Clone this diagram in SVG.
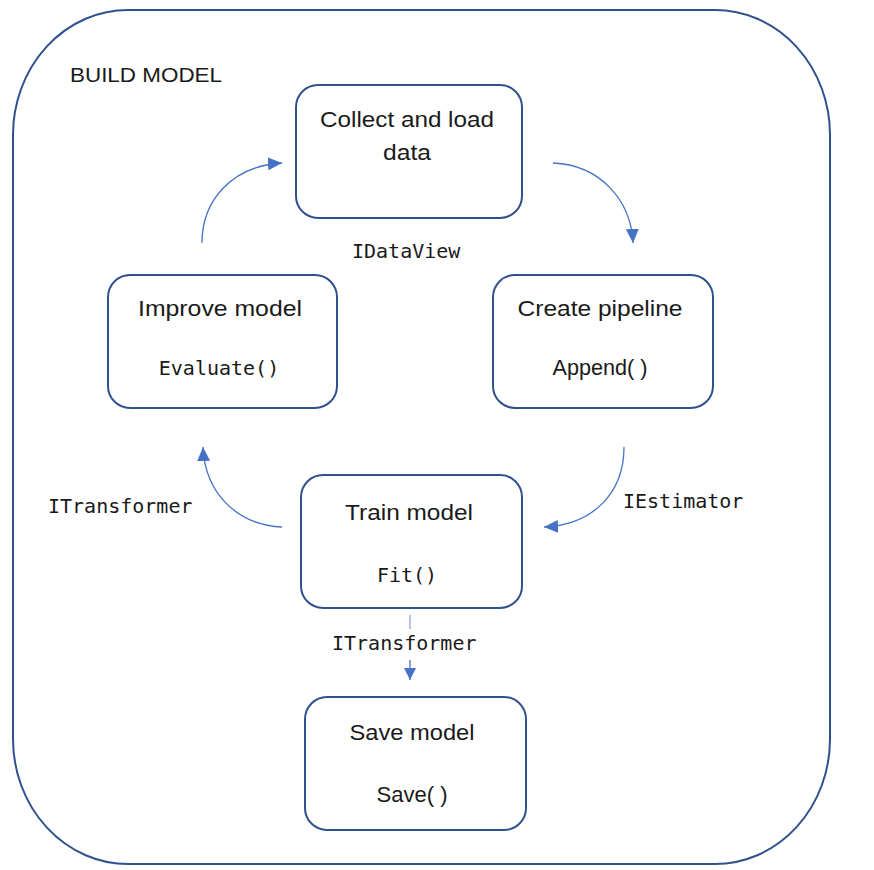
<svg xmlns="http://www.w3.org/2000/svg" width="874" height="870" viewBox="0 0 874 870">
  <style>
    .frame { fill: #ffffff; stroke: #2F528F; stroke-width: 2; }
    .box { fill: #ffffff; stroke: #2F528F; stroke-width: 2; }
    .sans { font-family: "Liberation Sans", Arial, sans-serif; font-size: 22px; fill: #1a1a1a; text-anchor: middle; }
    .mono { font-family: "DejaVu Sans Mono", "Liberation Mono", monospace; font-size: 20px; fill: #1a1a1a; }
    .conn { fill: none; stroke: #4472C4; stroke-width: 1.3; }
    .faint { fill: none; stroke: #9DB5E0; stroke-width: 1.5; }
  </style>
  <defs>
    <marker id="arrow" markerUnits="userSpaceOnUse" markerWidth="16" markerHeight="14" refX="14" refY="6.5" orient="auto">
      <path d="M0,0 L14,6.5 L0,13 z" fill="#4472C4"/>
    </marker>
    <marker id="arrowSmall" markerUnits="userSpaceOnUse" markerWidth="14" markerHeight="12" refX="12" refY="6" orient="auto">
      <path d="M0,0 L12,6 L0,12 z" fill="#4472C4"/>
    </marker>
  </defs>

  <rect width="874" height="870" fill="#ffffff"/>

  <g id="frame">
    <rect class="frame" x="13" y="10" width="817" height="854" rx="115" ry="125"/>
    <text x="70" y="82" font-family="Liberation Sans, Arial, sans-serif" font-size="21" fill="#1a1a1a" textLength="152" lengthAdjust="spacingAndGlyphs">BUILD MODEL</text>
  </g>

  <g id="connectors">
    <path class="conn" d="M202,243 C202,200 232,166 282,163" marker-end="url(#arrow)"/>
    <path class="conn" d="M553,163 C600,165 631,200 633,243" marker-end="url(#arrow)"/>
    <path class="conn" d="M624,447 C624,494 592,525 544,527" marker-end="url(#arrow)"/>
    <path class="conn" d="M282,527 C238,525 205,494 203,447" marker-end="url(#arrow)"/>
    <path class="faint" d="M410,615 V629"/>
    <path class="conn" d="M410,660 V680" marker-end="url(#arrowSmall)"/>
    <text class="mono" x="352" y="258">IDataView</text>
    <text class="mono" x="48" y="513">ITransformer</text>
    <text class="mono" x="623" y="508">IEstimator</text>
    <text class="mono" x="332" y="650">ITransformer</text>
  </g>

  <g id="collect">
    <rect class="box" x="296" y="85" width="226" height="133" rx="22"/>
    <text class="sans" x="407" y="127" textLength="174" lengthAdjust="spacingAndGlyphs">Collect and load</text>
    <text class="sans" x="407" y="160" textLength="48" lengthAdjust="spacingAndGlyphs">data</text>
  </g>

  <g id="improve">
    <rect class="box" x="108" y="275" width="229" height="133" rx="22"/>
    <text class="sans" x="220" y="316" textLength="164" lengthAdjust="spacingAndGlyphs">Improve model</text>
    <text class="mono" x="219" y="375" text-anchor="middle">Evaluate()</text>
  </g>

  <g id="pipeline">
    <rect class="box" x="493" y="275" width="220" height="133" rx="22"/>
    <text class="sans" x="600" y="316" textLength="165" lengthAdjust="spacingAndGlyphs">Create pipeline</text>
    <text class="sans" x="600" y="375" textLength="95" lengthAdjust="spacingAndGlyphs">Append( )</text>
  </g>

  <g id="train">
    <rect class="box" x="301" y="475" width="221" height="133" rx="22"/>
    <text class="sans" x="409" y="520" textLength="128" lengthAdjust="spacingAndGlyphs">Train model</text>
    <text class="mono" x="407" y="582" text-anchor="middle">Fit()</text>
  </g>

  <g id="save">
    <rect class="box" x="305" y="697" width="221" height="133" rx="22"/>
    <text class="sans" x="412" y="740" textLength="125" lengthAdjust="spacingAndGlyphs">Save model</text>
    <text class="sans" x="412" y="802" textLength="71" lengthAdjust="spacingAndGlyphs">Save( )</text>
  </g>
</svg>
